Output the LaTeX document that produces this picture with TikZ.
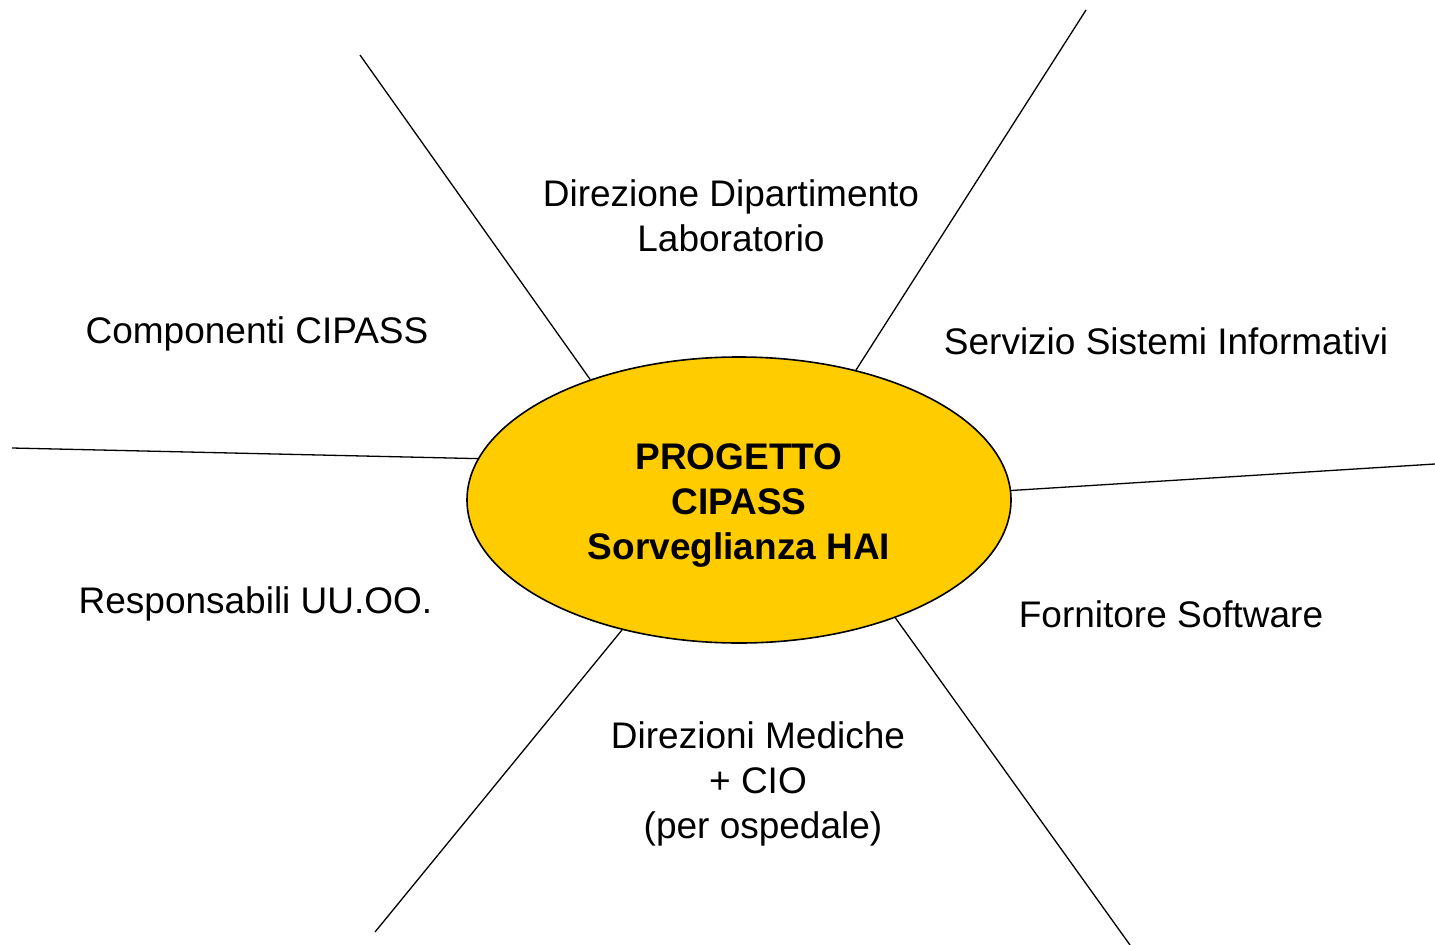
\documentclass[tikz,border=0pt]{standalone}
\usepackage{fontspec}
\setmainfont{Liberation Sans}
\usetikzlibrary{shapes.geometric}
\definecolor{hub}{HTML}{FFCC00}
\begin{document}
\begin{tikzpicture}[x=1pt,y=-1pt,
  lbl/.style={font=\fontsize{37}{45}\selectfont, inner sep=0pt, align=center},
  spoke/.style={line width=1.3pt, black},
  hubshape/.style={ellipse, draw=black, line width=1.6pt, fill=hub, minimum width=544pt, minimum height=286pt, inner sep=0pt}]
\useasboundingbox (0,0) rectangle (1435,945);
\node[hubshape] (hub) at (739,500) {};
\node[lbl, font=\fontsize{37}{45}\selectfont\bfseries] (title) at (739,505.5) {PROGETTO\\CIPASS\\Sorveglianza HAI};

\coordinate (e1) at (360,55);
\coordinate (e2) at (1086,10);
\coordinate (e3) at (12,448);
\coordinate (e4) at (1435,464);
\coordinate (e5) at (375,932);
\coordinate (e6) at (1130,945);

\draw[spoke] (e1) -- (hub.141.5);
\draw[spoke] (e2) -- (hub.48.3);
\draw[spoke] (e3) -- (hub.171.7);
\draw[spoke] (e4) -- (hub.2.3);
\draw[spoke] (e5) -- (hub.228.4);
\draw[spoke] (e6) -- (hub.323.8);

\node[lbl] (lab) at (731,215.5) {Direzione Dipartimento\\Laboratorio};
\node[lbl, anchor=base] (comp) at (257,343.5) {Componenti CIPASS};
\node[lbl, anchor=base] (ssi) at (1166,354.5) {Servizio Sistemi Informativi};
\node[lbl, anchor=base] (resp) at (255.5,613.5) {Responsabili UU.OO.};
\node[lbl, anchor=base] (forn) at (1171,627.5) {Fornitore Software};
\node[lbl] (dir) at (758,784) {Direzioni Mediche\\+ CIO\\\hspace*{10pt}(per ospedale)};
\end{tikzpicture}
\end{document}
